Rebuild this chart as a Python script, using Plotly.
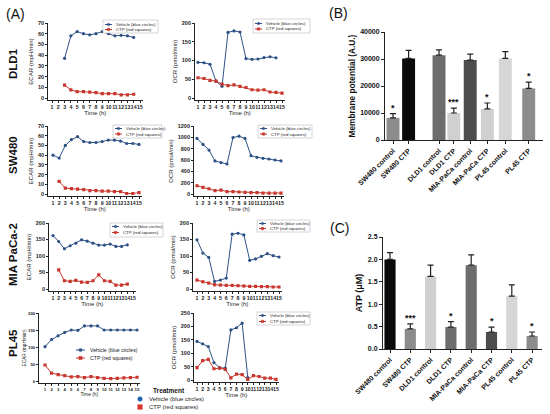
import plotly.graph_objects as go

W, H = 550, 414
FONT = "Arial, 'Liberation Sans', sans-serif"

# ---------------- data ----------------
cell_lines = ["DLD1", "SW480", "MIA PaCa-2", "PL45"]
time_ticks = [1, 2, 3, 4, 5, 6, 7, 8, 9, 10, 11, 12, 13, 14, 15]
vehicle_name = "Vehicle (blue circles)"
ctp_name = "CTP (red squares)"

# DLD1
dld1_ecar_veh_t = [3, 4, 5, 6, 7, 8, 9, 10, 11, 12, 13, 14]
dld1_ecar_veh = [37, 58, 62, 60, 59, 60, 62, 60, 58, 58.5, 58, 56.5]
dld1_ecar_ctp_t = [3, 4, 5, 6, 7, 8, 9, 10, 11, 12, 13, 14]
dld1_ecar_ctp = [12, 7.5, 6, 6, 5.5, 5, 4, 4, 4, 3, 3, 3.5]
dld1_ocr_veh_t = [1, 2, 3, 4, 5, 6, 7, 8, 9, 10, 11, 12, 13, 14]
dld1_ocr_veh = [95, 94, 90, 45, 31, 175, 179, 176, 105, 103, 104, 108, 110, 107]
dld1_ocr_ctp_t = [1, 2, 3, 4, 5, 6, 7, 8, 9, 10, 11, 12, 13, 14, 15]
dld1_ocr_ctp = [54, 52, 47, 45, 37, 33, 35, 31, 28, 22, 21, 22, 16, 15, 13]

# SW480
sw480_ecar_veh_t = [1, 2, 3, 4, 5, 6, 7, 8, 9, 10, 11, 12, 13, 14, 15]
sw480_ecar_veh = [40, 37, 50, 56, 59, 54, 53, 53, 54, 55.5, 55.5, 54.5, 52, 52, 51]
sw480_ecar_ctp_t = [2, 3, 4, 5, 6, 7, 8, 9, 10, 11, 12, 13, 14, 15]
sw480_ecar_ctp = [13, 6, 5.5, 5, 4.5, 3.5, 3.5, 3, 3, 2.5, 2.5, 0.5, 0.5, 1.5]
sw480_ocr_veh_t = [1, 2, 3, 4, 5, 6, 7, 8, 9, 10, 11, 12, 13, 14, 15]
sw480_ocr_veh = [980, 875, 775, 583, 554, 530, 997, 1020, 980, 676, 647, 630, 618, 600, 583]
sw480_ocr_ctp_t = [1, 2, 3, 4, 5, 6, 7, 8, 9, 10, 11, 12, 13, 14, 15]
sw480_ocr_ctp = [146, 117, 93, 58, 70, 41, 41, 35, 29, 23, 23, 17, 17, 17, 17]

# MIA PaCa-2
mia_ecar_veh_t = [1, 2, 3, 4, 5, 6, 7, 8, 9, 10, 11, 12, 13, 14]
mia_ecar_veh = [162, 144, 122, 131, 139, 149, 145, 139, 133, 133, 136, 129, 129, 134]
mia_ecar_ctp_t = [2, 3, 4, 5, 6, 7, 8, 9, 10, 11, 12, 13, 14]
mia_ecar_ctp = [58, 25, 23, 26, 21, 20, 25, 43, 25, 23, 12, 12, 15]
mia_ocr_veh_t = [1, 2, 3, 4, 5, 6, 7, 8, 9, 10, 11, 12, 13, 14, 15]
mia_ocr_veh = [149, 109, 96, 23, 27, 33, 166, 169, 164, 87, 91, 99, 107, 101, 97]
mia_ocr_ctp_t = [1, 2, 3, 4, 5, 6, 7, 8, 9, 10, 11, 12, 13, 14, 15]
mia_ocr_ctp = [27, 22, 18, 13, 12, 11, 11, 10, 9, 8, 8, 7, 7, 6, 6]

# PL45
pl45_ecar_veh_t = [1, 2, 3, 4, 5, 6, 7, 8, 9, 10, 11, 12, 13, 14, 15]
pl45_ecar_veh = [101, 122, 133, 143, 150, 149, 162, 162, 162, 150, 150, 150, 150, 150, 150]
pl45_ecar_ctp_t = [1, 2, 3, 4, 5, 6, 7, 8, 9, 10, 11, 12, 13, 14, 15]
pl45_ecar_ctp = [47, 23, 19, 16, 12, 13, 10, 13, 10, 8, 7, 8, 9, 10, 11]
pl45_ocr_veh_t = [1, 2, 3, 4, 5, 6, 7, 8, 9, 10]
pl45_ocr_veh = [144, 135, 125, 65, 46, 44, 187, 195, 212, 9]
pl45_ocr_ctp_t = [1, 2, 3, 4, 5, 6, 7, 8, 9, 10, 11, 12, 13, 14, 15]
pl45_ocr_ctp = [46, 72, 77, 42, 44, 40, 8, 22, 20, 2, 16, 13, 7, 7, 2]

# Panel B: membrane potential
b_categories = ["SW480 control", "SW480 CTP", "DLD1 control", "DLD1 CTP",
                "MIA-PaCa control", "MIA-PaCa CTP", "PL45 control", "PL45 CTP"]
b_values = [8200, 30200, 31400, 10000, 29600, 11500, 30200, 19100]
b_errors = [1600, 3000, 2000, 1800, 2200, 2200, 2500, 2300]
b_sig = ["*", "", "", "***", "", "*", "", "*"]

# Panel C: ATP
c_categories = ["SW480 control", "SW480 CTP", "DLD1 control", "DLD1 CTP",
                "MIA-PaCa control", "MIA-PaCa CTP", "PL45 control", "PL45 CTP"]
c_values = [2.0, 0.45, 1.62, 0.49, 1.87, 0.38, 1.18, 0.29]
c_errors = [0.15, 0.11, 0.25, 0.12, 0.23, 0.11, 0.25, 0.09]
c_sig = ["", "***", "", "*", "", "*", "", "*"]

# ---------------- styles / layout geometry ----------------
VEH_COLOR = "#2d5185"
CTP_COLOR = "#c8372d"
b_colors = ["#8c8c8c", "#0a0a0a", "#6d6d6d", "#d0d0d0", "#4d4d4d", "#d0d0d0", "#d6d6d6", "#8c8c8c"]
c_colors = ["#0a0a0a", "#8c8c8c", "#d0d0d0", "#6d6d6d", "#6d6d6d", "#4d4d4d", "#d6d6d6", "#8c8c8c"]
b_pos = [0, 1, 2.95, 3.9, 4.95, 6.05, 7.2, 8.7]
c_pos = [0, 1, 2, 3, 4, 5, 6, 7]


def px(x):
    return x / W


def py(y):
    return 1 - y / H


# fonts: (tick size, y-title size, x-title size, y-title standoff)
F_STD = (5.5, 6, 6, 3)
F_SMALL = (4.3, 4.8, 4.8, 1)

panels = [
    dict(s=(dld1_ecar_veh_t, dld1_ecar_veh, dld1_ecar_ctp_t, dld1_ecar_ctp), yt="ECAR (mpH/min)",
         ymax=70, dt=10, g=(48, 52, 140, 23, 98), leg=(103, 158, 20, 33, 24.5, 29.5, 4.3, True), f=F_STD),
    dict(s=(dld1_ocr_veh_t, dld1_ocr_veh, dld1_ocr_ctp_t, dld1_ocr_ctp), yt="OCR (pmol/min)",
         ymax=200, dt=50, g=(195, 198, 282, 23, 98), leg=(253, 310, 19, 33, 23.5, 29, 4.3, True), f=F_STD),
    dict(s=(sw480_ecar_veh_t, sw480_ecar_veh, sw480_ecar_ctp_t, sw480_ecar_ctp), yt="ECAR (mpH/min)",
         ymax=70, dt=10, g=(48, 53, 139, 126, 194), leg=(113, 162, 125, 138, 128.5, 134, 4.3, True), f=F_STD),
    dict(s=(sw480_ocr_veh_t, sw480_ocr_veh, sw480_ocr_ctp_t, sw480_ocr_ctp), yt="OCR (pmol/min)",
         ymax=1200, dt=200, g=(194, 197, 281, 126, 194), leg=(258, 312, 125, 138, 128.5, 134, 4.3, True), f=F_STD),
    dict(s=(mia_ecar_veh_t, mia_ecar_veh, mia_ecar_ctp_t, mia_ecar_ctp), yt="ECAR (mpH/min)",
         ymax=200, dt=50, g=(49, 53, 133, 223, 289), leg=(110, 163, 223, 237, 226.5, 232.5, 4.3, True), f=F_STD),
    dict(s=(mia_ocr_veh_t, mia_ocr_veh, mia_ocr_ctp_t, mia_ocr_ctp), yt="OCR (pmol/min)",
         ymax=200, dt=50, g=(193, 197, 279, 223, 289), leg=(257, 310, 220, 232, 223.5, 228.5, 4.3, True), f=F_STD),
    dict(s=(pl45_ecar_veh_t, pl45_ecar_veh, pl45_ecar_ctp_t, pl45_ecar_ctp), yt="ECAR (mpH/min)",
         ymax=200, dt=50, g=(39, 45, 137, 313, 381), leg=(74, 140, 345, 362, 350, 358, 5.2, False), f=F_SMALL),
    dict(s=(pl45_ocr_veh_t, pl45_ocr_veh, pl45_ocr_ctp_t, pl45_ocr_ctp), yt="OCR (pmol/min)",
         ymax=250, dt=50, g=(194, 197, 276, 313, 380), leg=(257, 310, 312, 325, 315.5, 321.5, 4.3, True), f=F_STD),
]

fig = go.Figure()
layout = dict(
    width=W, height=H, autosize=False,
    margin=dict(l=0, r=0, t=0, b=0, pad=0, autoexpand=False),
    paper_bgcolor="white", plot_bgcolor="white",
    font=dict(family=FONT, color="#222"),
    showlegend=False,
)
shapes = []
annotations = []

axis_common = dict(showline=True, linecolor="#222", linewidth=0.8, ticks="outside", ticklen=2,
                   tickwidth=0.6, tickcolor="#222", showgrid=False, zeroline=False,
                   automargin=False, ticklabeloverflow="allow")

for i, p in enumerate(panels):
    n = i + 1
    xs = "x" if n == 1 else f"x{n}"
    ys = "y" if n == 1 else f"y{n}"
    vt, vv, ct, cv = p["s"]
    fig.add_trace(go.Scatter(x=vt, y=vv, name=vehicle_name, mode="lines+markers", xaxis=xs, yaxis=ys,
                             line=dict(color=VEH_COLOR, width=1),
                             marker=dict(symbol="circle", size=3.2, color=VEH_COLOR)))
    fig.add_trace(go.Scatter(x=ct, y=cv, name=ctp_name, mode="lines+markers", xaxis=xs, yaxis=ys,
                             line=dict(color=CTP_COLOR, width=1),
                             marker=dict(symbol="square", size=3.2, color=CTP_COLOR)))
    ax, t1, t15, ytop, y0 = p["g"]
    fts, fyt, fxt, ystand = p["f"]
    unit = (t15 - t1) / 14.0
    xend = t15 + 2.5
    xr = [1 - (t1 - ax) / unit, 15 + (xend - t15) / unit]
    yunit = (y0 - ytop) / p["ymax"]
    ypad = 2.0 / yunit
    layout["xaxis" if n == 1 else f"xaxis{n}"] = dict(
        axis_common, domain=[px(ax), px(xend)], range=xr, anchor=ys,
        tickvals=time_ticks, tickangle=0, tickfont=dict(size=min(fts, 5.2), weight="bold"),
        title=dict(text="Time (h)", font=dict(size=fxt), standoff=0))
    layout["yaxis" if n == 1 else f"yaxis{n}"] = dict(
        axis_common, domain=[py(y0 + 2), py(ytop)], range=[-ypad, p["ymax"]], anchor=xs,
        dtick=p["dt"], tick0=0, tickangle=0, tickfont=dict(size=fts, weight="bold"),
        title=dict(text=p["yt"], font=dict(size=fyt), standoff=ystand))

    # inline legend (drawn as decoration)
    bx0, bx1, by0, by1, iy1, iy2, fs, box = p["leg"]
    if box:
        shapes.append(dict(type="rect", xref="paper", yref="paper", x0=px(bx0), x1=px(bx1),
                           y0=py(by1), y1=py(by0), line=dict(color="#aaa", width=0.5),
                           fillcolor="white", layer="above"))
        lx0, lx1, tx, r = bx0 + 2, bx0 + 9, bx0 + 11, 1.2
    else:
        lx0, lx1, tx, r = bx0 + 2, bx0 + 11, bx0 + 14, 1.6
    cx = (lx0 + lx1) / 2
    for iy, col, sym, label in [(iy1, VEH_COLOR, "circle", vehicle_name), (iy2, CTP_COLOR, "rect", ctp_name)]:
        shapes.append(dict(type="line", xref="paper", yref="paper", x0=px(lx0), x1=px(lx1),
                           y0=py(iy), y1=py(iy), line=dict(color=col, width=1), layer="above"))
        shapes.append(dict(type=sym, xref="paper", yref="paper", x0=px(cx - r), x1=px(cx + r),
                           y0=py(iy + r), y1=py(iy - r), line=dict(color=col, width=0.5),
                           fillcolor=col, layer="above"))
        annotations.append(dict(text=label, xref="paper", yref="paper", x=px(tx), y=py(iy),
                                xanchor="left", yanchor="middle", showarrow=False,
                                font=dict(size=fs, color="#222")))

# row labels
row_centers = [64, 155, 255, 343]
for name, yc in zip(cell_lines, row_centers):
    annotations.append(dict(text=f"<b>{name}</b>", xref="paper", yref="paper", x=px(13), y=py(yc),
                            textangle=-90, showarrow=False, xanchor="center", yanchor="middle",
                            font=dict(size=11.5, color="#111")))

# panel letters
for lab, xx, yy in [("(A)", 15, 14), ("(B)", 338, 13), ("(C)", 339, 228)]:
    annotations.append(dict(text=lab, xref="paper", yref="paper", x=px(xx), y=py(yy), showarrow=False,
                            xanchor="center", yanchor="middle", font=dict(size=14, color="#111")))

# Treatment legend
annotations.append(dict(text="<b>Treatment</b>", xref="paper", yref="paper", x=px(169), y=py(390),
                        showarrow=False, xanchor="center", yanchor="middle", font=dict(size=6.5, color="#111")))
for iy, col, sym, label in [(399, "#2260b0", "circle", vehicle_name), (407, "#d9342b", "rect", ctp_name)]:
    r = 2.3
    shapes.append(dict(type=sym, xref="paper", yref="paper", x0=px(140 - r), x1=px(140 + r),
                       y0=py(iy + r), y1=py(iy - r), line=dict(color=col, width=0.5), fillcolor=col))
    annotations.append(dict(text=label, xref="paper", yref="paper", x=px(147), y=py(iy),
                            xanchor="left", yanchor="middle", showarrow=False,
                            font=dict(size=6, color="#222")))

# ---------------- bar panels ----------------
bar_axis = dict(showline=True, linecolor="#222", linewidth=1, ticks="outside", ticklen=3,
                tickwidth=1, tickcolor="#222", showgrid=False, zeroline=False,
                automargin=False, ticklabeloverflow="allow")

fig.add_trace(go.Bar(x=b_pos, y=b_values, xaxis="x9", yaxis="y9", width=0.83,
                     marker=dict(color=b_colors, line=dict(width=0)),
                     error_y=dict(type="data", array=b_errors, arrayminus=[0] * len(b_errors),
                                  symmetric=False, color="#222", thickness=1.2, width=3),
                     name="Membrane potential"))
fig.add_trace(go.Bar(x=c_pos, y=c_values, xaxis="x10", yaxis="y10", width=0.55,
                     marker=dict(color=c_colors, line=dict(width=0)),
                     error_y=dict(type="data", array=c_errors, arrayminus=[0] * len(c_errors),
                                  symmetric=False, color="#222", thickness=1.2, width=3),
                     name="ATP"))

b_unit = 15.6
layout["xaxis9"] = dict(bar_axis, domain=[px(385), px(543)], range=[-8 / b_unit, (543 - 393) / b_unit],
                        anchor="y9", tickvals=b_pos, ticktext=b_categories, tickangle=-45,
                        tickfont=dict(size=7, weight="bold", color="#111"))
layout["yaxis9"] = dict(bar_axis, domain=[py(140), py(32)], range=[0, 40000], anchor="x9",
                        dtick=10000, tickformat="d", tickfont=dict(size=7, weight="bold", color="#111"),
                        title=dict(text="Membrane potential (A.U.)", font=dict(size=8.3, weight="bold", color="#111"),
                                   standoff=3))
c_unit = 20.3
layout["xaxis10"] = dict(bar_axis, domain=[px(383), px(542)], range=[-7 / c_unit, (542 - 390) / c_unit],
                         anchor="y10", tickvals=c_pos, ticktext=c_categories, tickangle=-45,
                         tickfont=dict(size=7, weight="bold", color="#111"))
layout["yaxis10"] = dict(bar_axis, domain=[py(349), py(237)], range=[0, 2.5], anchor="x10",
                         dtick=0.5, tickformat=".1f", tickfont=dict(size=7, weight="bold", color="#111"),
                         title=dict(text="ATP (μM)", font=dict(size=9, weight="bold", color="#111"),
                                    standoff=3))

for pos, v, e, s in zip(b_pos, b_values, b_errors, b_sig):
    if s:
        annotations.append(dict(text=f"<b>{s}</b>", xref="x9", yref="y9", x=pos, y=v + e, yanchor="bottom",
                                showarrow=False, yshift=-1, font=dict(size=9, color="#111")))
for pos, v, e, s in zip(c_pos, c_values, c_errors, c_sig):
    if s:
        annotations.append(dict(text=f"<b>{s}</b>", xref="x10", yref="y10", x=pos, y=v + e, yanchor="bottom",
                                showarrow=False, yshift=-1, font=dict(size=9, color="#111")))

layout["shapes"] = shapes
layout["annotations"] = annotations
fig.update_layout(**layout)

# remove the page's default body margin so the 550x414 figure fills the window exactly
fig.write_html("out.html", config={"displayModeBar": False},
               post_script="document.body.style.margin='0';document.body.style.overflow='hidden';")
